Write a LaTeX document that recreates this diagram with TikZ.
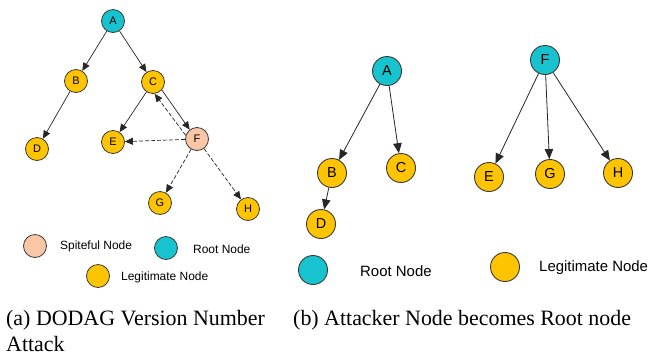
\documentclass[tikz,border=0pt]{standalone}
\usepackage{fontspec}
\setmainfont{Liberation Serif}
\newfontfamily\nodefont{Liberation Sans}
\usetikzlibrary{arrows.meta}
\definecolor{rootcol}{HTML}{17C3CF}
\definecolor{legitcol}{HTML}{FFC400}
\definecolor{spitecol}{HTML}{F9C6A6}
\definecolor{rimcol}{HTML}{3A3A3A}
\begin{document}
\begin{tikzpicture}[x=1bp,y=-1bp,
  smallnode/.style={circle,draw=rimcol,line width=0.8bp,minimum size=23bp,inner sep=0pt,font=\nodefont\fontsize{11}{11}\selectfont},
  bignode/.style={circle,draw=rimcol,line width=0.9bp,minimum size=29bp,inner sep=0pt,font=\nodefont\fontsize{14.5}{14.5}\selectfont},
  rootn/.style={fill=rootcol},
  legitn/.style={fill=legitcol},
  spiten/.style={fill=spitecol},
  smallarrow/.style={draw=black!85,line width=0.7bp,-{Triangle[length=8bp,width=7bp]}},
  bigarrow/.style={draw=black!85,line width=0.8bp,-{Triangle[length=10bp,width=8.5bp]}},
  dasharrow/.style={smallarrow,dash pattern=on 4bp off 2bp},
  smalllabel/.style={anchor=west,inner sep=0pt,font=\nodefont\fontsize{12}{12}\selectfont},
  biglabel/.style={anchor=west,inner sep=0pt,font=\nodefont\fontsize{15}{15}\selectfont},
  caption/.style={anchor=base west,inner sep=0pt,font=\fontsize{22}{22}\selectfont}]
\useasboundingbox (0,0) rectangle (651,356);

% (a) DODAG version number attack
\node[smallnode,rootn]  (a1) at (113,21)  {A};
\node[smallnode,legitn] (b1) at (76,81)   {B};
\node[smallnode,legitn] (c1) at (153,82)  {C};
\node[smallnode,legitn] (d1) at (37,149)  {D};
\node[smallnode,legitn] (e1) at (113,142) {E};
\node[smallnode,spiten] (f1) at (197,139) {F};
\node[smallnode,legitn] (g1) at (160,203) {G};
\node[smallnode,legitn] (h1) at (248,209) {H};

\draw[smallarrow] (a1) -- (b1);
\draw[smallarrow] (a1) -- (c1);
\draw[smallarrow] (b1) -- (d1);
\draw[smallarrow] (c1) -- (e1);
\draw[smallarrow] (c1.-42) -- (f1.128);
\draw[dasharrow] (f1.162) -- (c1.-82);
\draw[dasharrow] (f1) -- (e1);
\draw[dasharrow] (f1) -- (g1);
\draw[dasharrow] (f1) -- (h1);

% legend (a)
\node[smallnode,spiten] (ls1) at (35,246) {};
\node[smalllabel] (ts1) at (60,246) {Spiteful Node};
\node[smallnode,rootn] (lr1) at (166,248) {};
\node[smalllabel] (tr1) at (193,249) {Root Node};
\node[smallnode,legitn] (ll1) at (98,276) {};
\node[smalllabel] (tl1) at (121,277) {Legitimate Node};

% (b) attacker node becomes root node
\node[bignode,rootn]  (a2) at (387,71)  {A};
\node[bignode,legitn] (b2) at (332,173) {B};
\node[bignode,legitn] (c2) at (401,168) {C};
\node[bignode,legitn] (d2) at (321,224) {D};
\node[bignode,rootn]  (f2) at (545,60)  {F};
\node[bignode,legitn] (e2) at (489,177) {E};
\node[bignode,legitn] (g2) at (550,174) {G};
\node[bignode,legitn] (h2) at (618,173) {H};

\draw[bigarrow] (a2) -- (b2);
\draw[bigarrow] (a2) -- (c2);
\draw[bigarrow] (b2) -- (d2);
\draw[bigarrow] (f2) -- (e2);
\draw[bigarrow] (f2) -- (g2);
\draw[bigarrow] (f2) -- (h2);

% legend (b)
\node[bignode,rootn] (lr2) at (313,270) {};
\node[biglabel] (tr2) at (360,271) {Root Node};
\node[bignode,legitn] (ll2) at (505,267) {};
\node[biglabel] (tl2) at (539,268) {Legitimate Node};

% captions
\node[caption] (capa) at (6,325) {(a) DODAG Version Number};
\node[caption] (capa2) at (6,351) {Attack};
\node[caption] (capb) at (293,325) {(b) Attacker Node becomes Root node};
\end{tikzpicture}
\end{document}
